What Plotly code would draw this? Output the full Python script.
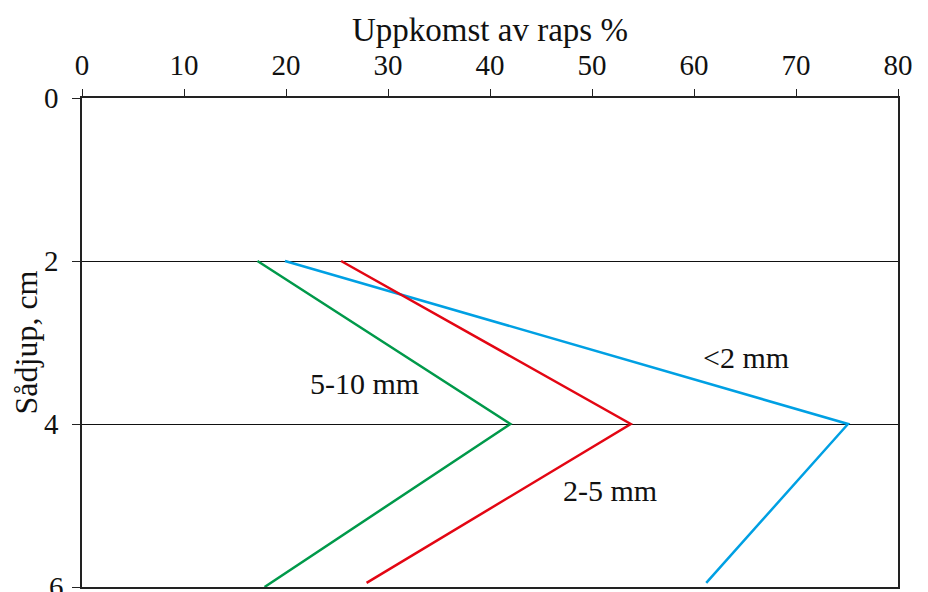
import plotly.graph_objects as go

# Data
depth = [2, 4, 6]
depth_end = [2, 4, 5.95]
series_names = ["<2 mm", "2-5 mm", "5-10 mm"]
emergence_lt2 = [19.9, 75.1, 61.2]
emergence_2_5 = [25.4, 53.8, 27.9]
emergence_5_10 = [17.2, 42.0, 17.9]
x_ticks = [0, 10, 20, 30, 40, 50, 60, 70, 80]
y_ticks = [0, 2, 4, 6]

# label positions (data coords)
label_x = [65.1, 51.8, 27.7]
label_y = [3.18, 4.81, 3.5]

colors = ["#00a0e3", "#e30613", "#00994a"]
FONT = "Liberation Serif"
INK = "#111111"

fig = go.Figure()
fig.add_trace(go.Scatter(x=emergence_lt2, y=[depth[0], depth[1], depth_end[2]], mode="lines",
                         line=dict(color=colors[0], width=2.5), name=series_names[0], showlegend=False))
fig.add_trace(go.Scatter(x=emergence_2_5, y=[depth[0], depth[1], depth_end[2]], mode="lines",
                         line=dict(color=colors[1], width=2.5), name=series_names[1], showlegend=False))
fig.add_trace(go.Scatter(x=emergence_5_10, y=depth, mode="lines",
                         line=dict(color=colors[2], width=2.5), name=series_names[2], showlegend=False))

for name, lx, ly in zip(series_names, label_x, label_y):
    fig.add_annotation(x=lx, y=ly, text=name, showarrow=False,
                       font=dict(family=FONT, size=30, color=INK))

# x-axis title (placed above the top tick labels)
fig.add_annotation(xref="paper", yref="paper", x=0.5, y=1, yanchor="middle", yshift=68,
                   text="Uppkomst av raps %", showarrow=False,
                   font=dict(family=FONT, size=33, color=INK))

# last y tick label (at the very bottom edge, Plotly drops it)
fig.add_annotation(xref="paper", yref="y", x=0, y=y_ticks[-1], xanchor="right", yanchor="middle",
                   xshift=-16, text=str(y_ticks[-1]), showarrow=False,
                   font=dict(family=FONT, size=29, color=INK))

fig.update_layout(
    width=928, height=592,
    margin=dict(l=74, r=38, t=90, b=13),
    paper_bgcolor="white", plot_bgcolor="white",
    font=dict(family=FONT, size=30, color=INK),
    xaxis=dict(
        side="top", range=[0, 80], tickvals=x_ticks,
        ticks="outside", ticklen=7, tickcolor="#222", tickwidth=1.3,
        showgrid=False, zeroline=False, automargin=False,
        showline=True, linecolor="#222", linewidth=1.5, mirror=True,
        tickfont=dict(family=FONT, size=29, color=INK),
        ticklabelstandoff=3,
    ),
    yaxis=dict(
        range=[6, 0], tickvals=y_ticks,
        ticks="outside", ticklen=8, tickcolor="#222", tickwidth=1.3,
        showgrid=True, gridcolor="#111", gridwidth=1.3,
        zeroline=False, automargin=False,
        showline=True, linecolor="#222", linewidth=1.5, mirror=True,
        tickfont=dict(family=FONT, size=29, color=INK),
        ticklabelstandoff=8,
        title=dict(text="Sådjup, cm", font=dict(family=FONT, size=32, color=INK), standoff=0),
    ),
)

fig.write_html("out.html")
